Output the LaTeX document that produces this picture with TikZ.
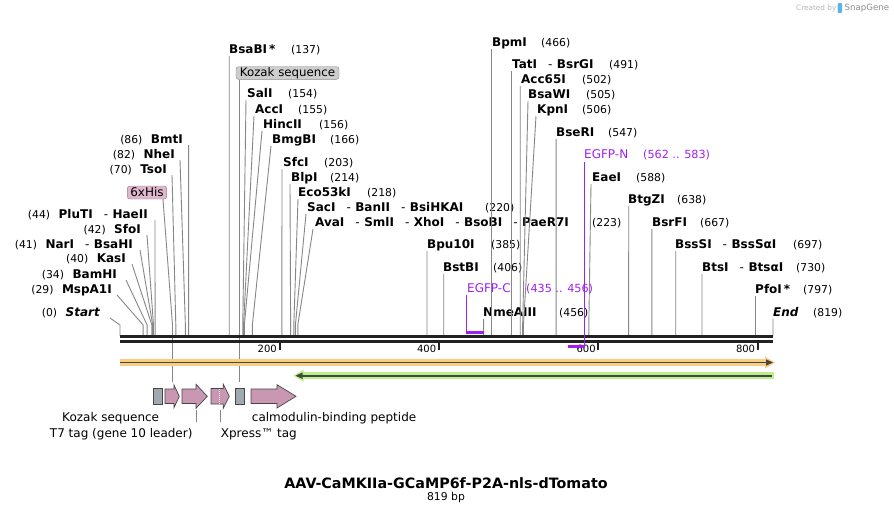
\documentclass[tikz,border=0pt]{standalone}
\usepackage{fontspec}
\setmainfont{DejaVu Sans}
\usetikzlibrary{calc}
\definecolor{sitegray}{RGB}{135,135,135}
\definecolor{bb}{RGB}{34,34,34}
\definecolor{prim}{RGB}{160,32,240}
\definecolor{pinkf}{RGB}{201,151,178}
\definecolor{pinkb}{RGB}{222,184,204}
\definecolor{pinkd}{RGB}{160,120,140}
\definecolor{grayf}{RGB}{160,168,176}
\definecolor{kozf}{RGB}{205,205,205}
\definecolor{kozd}{RGB}{140,140,140}
\definecolor{orhalo}{RGB}{250,206,130}
\definecolor{grhalo}{RGB}{186,240,140}
\definecolor{darkline}{RGB}{70,70,70}
\definecolor{logoblue}{RGB}{90,180,235}
\newcommand\enzf{\fontsize{12}{14}\selectfont\bfseries}
\newcommand\numf{\fontsize{10.8}{13}\selectfont\mdseries}
\newcommand\sep{\hspace{11pt}{\mdseries-}\hspace{4.5pt}}
\tikzset{
  enz/.style={font=\enzf, inner sep=0pt},
  num/.style={font=\numf, inner sep=0pt},
  sline/.style={draw=sitegray, line width=0.9pt},
  feat/.style={draw=darkline, line width=0.7pt, fill=pinkf},
  grect/.style={draw=darkline, line width=0.7pt, fill=grayf, minimum width=9pt, minimum height=16pt, inner sep=0pt},
  flab/.style={font=\fontsize{12}{14}\selectfont, inner sep=0pt},
  tick/.style={draw=bb, line width=2pt},
  ticklab/.style={font=\fontsize{10}{12}\selectfont, inner sep=0pt, anchor=east},
  primtxt/.style={font=\fontsize{12}{14}\selectfont, text=prim, inner sep=0pt, anchor=base west},
  primnum/.style={font=\fontsize{11.2}{13}\selectfont, text=prim, inner sep=0pt, anchor=base west},
  primline/.style={draw=prim, line width=1.3pt},
  primbar/.style={draw=prim, line width=2.6pt},
}
% top label: name, x, y(center), text, numx, num, line-top x, bp
\newcommand\tlab[8]{%
  \node[enz,anchor=base west] (#1) at (#2,#3+4.3) {#4};
  \node[num,anchor=base west] (#1n) at (#5,#3+4.3) {(#6)};
  \coordinate (#1t) at (#7,#3+7);
  \coordinate (#1s) at ({120+0.7973*#8},325);
  \draw[sline] (#1t) -- (#1s) -- ++(0,11);
}
% left label: name, end x, y(center), num, text, line-top x, bp
\newcommand\llab[7]{%
  \node[enz,anchor=base east] (#1) at (#2,#3+4.3) {{\numf(#4)}\hspace{8.5pt}#5};
  \coordinate (#1t) at (#6,#3+6);
  \coordinate (#1s) at ({120+0.7973*#7},325);
  \draw[sline] (#1t) -- (#1s) -- ++(0,11);
}
\begin{document}
\begin{tikzpicture}[x=1pt,y=-1pt]
\useasboundingbox (0,0) rectangle (894,515);
\fill[white] (0,0) rectangle (894,515);

% ---- logo
\node[anchor=west, font=\fontsize{7.3}{9}\selectfont, text=black!28, inner sep=0pt] (cby) at (796,8) {Created by};
\fill[logoblue, rounded corners=1pt] (837.5,3) rectangle (842,13);
\node[anchor=west, font=\fontsize{8.6}{10}\selectfont, text=black!45, inner sep=0pt] (sg) at (844.5,8) {SnapGene};

% ---- left labels
\llab{BmtI}{183}{139}{86}{BmtI}{188.6}{86}
\llab{NheI}{175}{154}{82}{NheI}{180}{82}
\llab{TsoI}{167}{169}{70}{TsoI}{172}{70}
\llab{PluTI}{148}{214}{44}{PluTI\sep HaeII}{155}{44}
\llab{SfoI}{141}{229}{42}{SfoI}{147}{42}
\llab{NarI}{133}{244}{41}{NarI\sep BsaHI}{140}{41}
\llab{KasI}{126}{258}{40}{KasI}{132}{40}
\llab{BamHI}{117}{274}{34}{BamHI}{126}{34}
\llab{MspA1I}{112}{289}{29}{MspA1I}{117}{29}
\llab{Start}{100}{312}{0}{\itshape Start}{110}{0}

% ---- top labels
\tlab{BsaBI}{229}{49}{BsaBI\,*}{291}{137}{229.2}{137}
\tlab{SalI}{247}{93}{SalI}{288}{154}{246}{154}
\tlab{AccI}{255}{109}{AccI}{298}{155}{254}{155}
\tlab{HincII}{263}{124}{HincII}{319}{156}{262}{156}
\tlab{BmgBI}{272}{139}{BmgBI}{330}{166}{271}{166}
\tlab{SfcI}{283}{162}{SfcI}{324}{203}{282}{203}
\tlab{BlpI}{291}{177}{BlpI}{330}{214}{290}{214}
\tlab{Eco}{298}{192}{Eco53kI}{367}{218}{298}{218}
\tlab{SacI}{307}{207}{SacI\sep BanII\sep BsiHKAI}{485}{220}{306}{220}
\tlab{AvaI}{315}{222}{AvaI\sep SmlI\sep XhoI\sep BsoBI\sep PaeR7I}{592}{223}{313}{223}
\tlab{Bpu}{427}{244}{Bpu10I}{491}{385}{427}{385}
\tlab{BstBI}{443}{267}{BstBI}{493}{406}{443.7}{406}
\tlab{Nme}{483}{312}{NmeAIII}{559}{456}{483.6}{456}
\tlab{BpmI}{492}{42}{BpmI}{541}{466}{491.5}{466}
\tlab{TatI}{512}{64}{TatI\sep BsrGI}{609}{491}{511.5}{491}
\tlab{Acc}{521}{79}{Acc65I}{582}{502}{520.2}{502}
\tlab{BsaWI}{528}{94}{BsaWI}{586}{505}{528}{505}
\tlab{KpnI}{537}{109}{KpnI}{582}{506}{536}{506}
\tlab{BseRI}{556}{132}{BseRI}{608}{547}{556.1}{547}
\tlab{EaeI}{592}{177}{EaeI}{636}{588}{591}{588}
\tlab{BtgZI}{628}{199}{BtgZI}{677}{638}{628.7}{638}
\tlab{BsrFI}{652}{222}{BsrFI}{700}{667}{651.8}{667}
\tlab{BssSI}{675}{244}{BssSI\sep BssSαI}{793}{697}{675.7}{697}
\tlab{BtsI}{702}{267}{BtsI\sep BtsαI}{796}{730}{702}{730}
\tlab{PfoI}{755}{289}{PfoI\,*}{803}{797}{755.5}{797}
\tlab{End}{773}{312}{\itshape End}{813}{819}{773}{819}

% ---- feature label boxes on top
\node[draw=pinkd, fill=pinkb, rounded corners=2.5pt, font=\fontsize{12}{14}\selectfont, inner xsep=3pt, inner ysep=0pt, minimum height=13pt] (his) at (147,192.5) {6xHis};
\node[draw=kozd, fill=kozf, rounded corners=2.5pt, font=\fontsize{11.8}{14}\selectfont, inner xsep=2.5pt, inner ysep=0pt, minimum height=12.6pt, minimum width=103pt] (kozbox) at (287.5,73) {Kozak sequence};

% ---- features below
\node[grect] (koz1) at (157.8,396.3) {};
\node[grect] (koz2) at (239.5,396.3) {};
\coordinate (hisbend) at (172.5,325);
\coordinate (hisend) at (172.5,382);
\coordinate (kozend) at (239.2,382);
\draw[sline] ($(his.south)+(16,0)$) -- (hisbend) -- (hisend);
\draw[sline] (kozbox.south -| kozend) -- (kozend);

% ---- backbone
\draw[bb, line width=3.2pt] (120,336.6) -- (773,336.6);
\draw[bb, line width=3.2pt] (120,341.7) -- (773,341.7);

% ruler
\foreach \v/\xx in {200/279.5, 400/438.9, 600/598.4, 800/757.8}{
  \draw[tick] (\xx,342.5) -- (\xx,350);
  \node[ticklab] (r\v) at (\xx-2.5,349) {\v};
}

% ---- primers
\node[primtxt] (egfpc) at (467,292.3) {EGFP-C};
\node[primnum] (egfpcn) at (526,292.3) {(435 .. 456)};
\coordinate (pc1) at (466.8,295);
\coordinate (pc2) at (466.8,332.5);
\coordinate (pc3) at (483.6,332.5);
\draw[primline] (pc1) -- (pc2);
\draw[primbar] ($(pc2)+(-0.65,0)$) -- (pc3);

\node[primtxt] (egfpn) at (584,158.3) {EGFP-N};
\node[primnum] (egfpnn) at (643,158.3) {(562 .. 583)};
\coordinate (pn1) at (584.8,162);
\coordinate (pn2) at (584.8,346.3);
\coordinate (pn3) at (567.5,346.3);
\draw[primline] (pn1) -- (pn2);
\draw[primbar] ($(pn2)+(0.65,0)$) -- (pn3);

% ---- orange and green bars
\fill[orhalo] (120,359) rectangle (766,366);
\fill[orhalo] (765,356.5) -- (775,362.5) -- (765,368.5) -- cycle;
\draw[darkline, line width=1.6pt] (120,362.5) -- (767,362.5);
\fill[darkline] (766,359.3) -- (773,362.5) -- (766,365.7) -- cycle;

\fill[grhalo] (302,372.2) rectangle (773.5,379.2);
\fill[grhalo] (303.5,369.7) -- (293.5,375.7) -- (303.5,381.7) -- cycle;
\draw[darkline, line width=1.6pt] (301,375.7) -- (772,375.7);
\fill[darkline] (302.5,372.5) -- (295.5,375.7) -- (302.5,378.9) -- cycle;

% ---- feature arrows
\draw[feat] (165,389) -- (174,389) -- (174,385) -- (179.3,396.3) -- (174,407.7) -- (174,403.5) -- (165,403.5) -- cycle;
\draw[feat] (182,389) -- (196,389) -- (196,384.3) -- (207.3,396.3) -- (196,408.3) -- (196,403.5) -- (182,403.5) -- cycle;
\draw[feat] (211,388.5) -- (223.3,388.5) -- (223.3,384.3) -- (229.3,396.3) -- (223.3,408.3) -- (223.3,404) -- (211,404) -- cycle;
\draw[white, line width=0.8pt, dash pattern=on 1pt off 1pt] (219.3,389) -- (219.3,403.5);
\draw[feat] (251,389) -- (277,389) -- (277,384.7) -- (296,396.3) -- (277,408) -- (277,403.5) -- (251,403.5) -- cycle;

% feature labels
\node[flab, anchor=east] (lkoz) at (159.3,418) {Kozak sequence};
\node[flab, anchor=east] (lt7) at (192.7,434) {T7 tag (gene 10 leader)};
\node[flab, anchor=west] (lxp) at (220.7,434) {Xpress™ tag};
\node[flab, anchor=west] (lcal) at (251.7,418) {calmodulin-binding peptide};
\coordinate (t7a) at (196,410); \coordinate (t7b) at (196,422);
\coordinate (xpa) at (220,410); \coordinate (xpb) at (220,422);
\draw[sline] (t7a) -- (t7b);
\draw[sline] (xpa) -- (xpb);

% ---- title
\node[font=\fontsize{14.3}{16}\selectfont\bfseries, inner sep=0pt] (title) at (446,483) {AAV-CaMKIIa-GCaMP6f-P2A-nls-dTomato};
\node[font=\fontsize{10.8}{13}\selectfont, inner sep=0pt] (bp) at (446,498) {819 bp};
\end{tikzpicture}
\end{document}
